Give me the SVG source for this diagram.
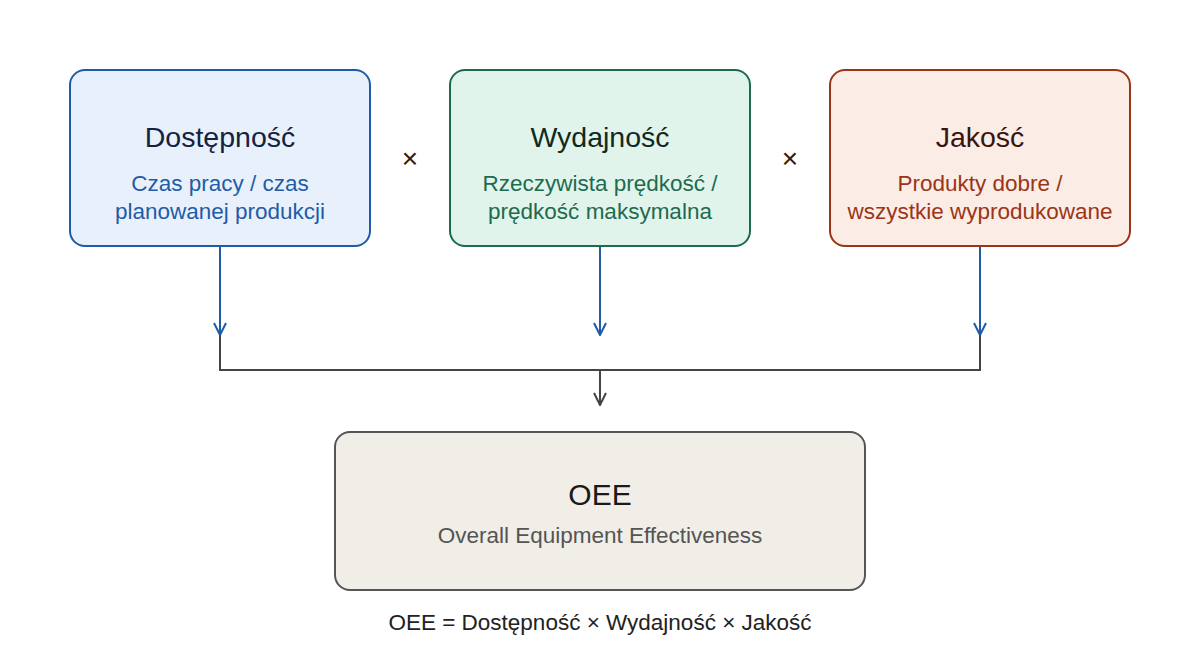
<svg xmlns="http://www.w3.org/2000/svg" width="1200" height="670" viewBox="0 0 1200 670">
<style>
text{font-family:"Liberation Sans",Arial,sans-serif;text-anchor:middle}
.t{font-size:28.5px}
.s{font-size:22.5px}
.blue{stroke:#1f5ca8;stroke-width:2;fill:none}
.grey{stroke:#444;stroke-width:2;fill:none}
</style>
<defs>
<marker id="ab" markerWidth="14" markerHeight="14" refX="13" refY="7" orient="auto" markerUnits="userSpaceOnUse" viewBox="0 0 14 14">
<path d="M1,1 L13,7 L1,13" fill="none" stroke="#1f5ca8" stroke-width="2"/>
</marker>
<marker id="ag" markerWidth="14" markerHeight="14" refX="13" refY="7" orient="auto" markerUnits="userSpaceOnUse" viewBox="0 0 14 14">
<path d="M1,1 L13,7 L1,13" fill="none" stroke="#444" stroke-width="2"/>
</marker>
</defs>
<rect width="1200" height="670" fill="#fff"/>
<g id="connectors">
<line class="blue" x1="220" y1="247" x2="220" y2="335" marker-end="url(#ab)"/>
<line class="blue" x1="600" y1="247" x2="600" y2="335" marker-end="url(#ab)"/>
<line class="blue" x1="980" y1="247" x2="980" y2="335" marker-end="url(#ab)"/>
<polyline class="grey" points="220,335 220,370 980,370 980,335"/>
<line class="grey" x1="600" y1="370" x2="600" y2="405" marker-end="url(#ag)"/>
</g>
<g id="availability">
<rect x="70" y="70" width="300" height="176" rx="15" fill="#e8f1fb" stroke="#1f5ca8" stroke-width="2"/>
<text class="t" x="220" y="147" fill="#13233f">Dostępność</text>
<text class="s" x="220" y="191" fill="#1f5ca8">Czas pracy / czas</text>
<text class="s" x="220" y="219" fill="#1f5ca8">planowanej produkcji</text>
</g>
<g id="performance">
<rect x="450" y="70" width="300" height="176" rx="15" fill="#e1f4ec" stroke="#1d6b4f" stroke-width="2"/>
<text class="t" x="600" y="147" fill="#0f2a22">Wydajność</text>
<text class="s" x="600" y="191" fill="#1d6b4f">Rzeczywista prędkość /</text>
<text class="s" x="600" y="219" fill="#1d6b4f">prędkość maksymalna</text>
</g>
<g id="quality">
<rect x="830" y="70" width="300" height="176" rx="15" fill="#fbece6" stroke="#9a3517" stroke-width="2"/>
<text class="t" x="980" y="147" fill="#3a1510">Jakość</text>
<text class="s" x="980" y="191" fill="#9a3517">Produkty dobre /</text>
<text class="s" x="980" y="219" fill="#9a3517">wszystkie wyprodukowane</text>
</g>
<g id="ops">
<text x="410" y="168" font-size="28" fill="#222">×</text>
<text x="790" y="168" font-size="28" fill="#222">×</text>
</g>
<g id="oee">
<rect x="335" y="432" width="530" height="158" rx="15" fill="#f0eee7" stroke="#555" stroke-width="2"/>
<text x="600" y="505" font-size="30" fill="#1a1a1a">OEE</text>
<text x="600" y="543" font-size="22.5" fill="#555">Overall Equipment Effectiveness</text>
</g>
<text x="600" y="630" font-size="22.5" fill="#222">OEE = Dostępność × Wydajność × Jakość</text>
</svg>
